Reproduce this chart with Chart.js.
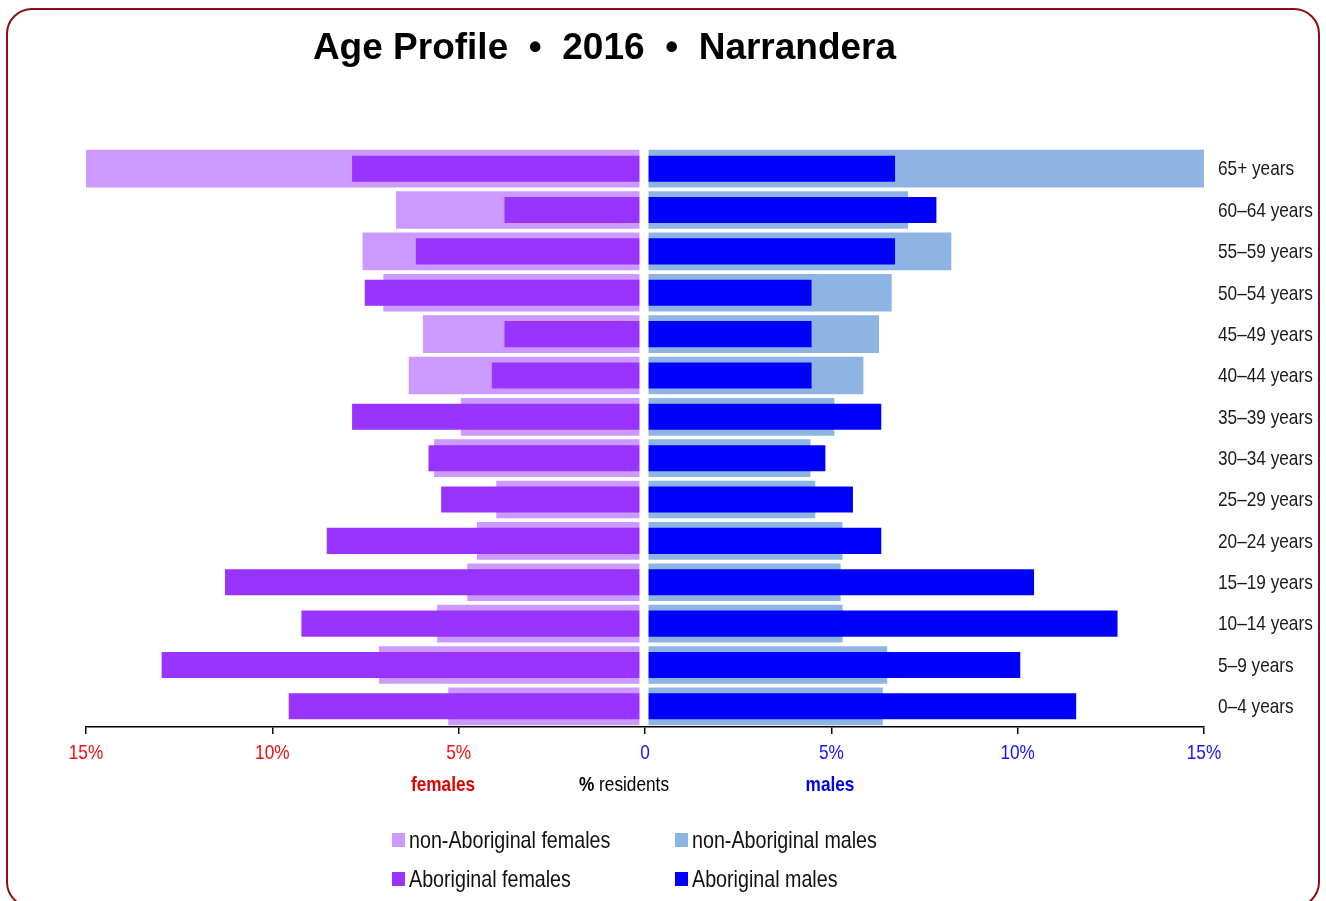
<!DOCTYPE html>
<html>
<head>
<meta charset="utf-8">
<title>Age Profile - Narrandera 2016</title>
<script src="https://cdn.jsdelivr.net/npm/chart.js@4.4.1/dist/chart.umd.min.js"></script>
<style>
  body { margin: 0; background: #fff; }
  #wrap { position: relative; width: 1326px; height: 901px; overflow: hidden; background: #fff; }
  #frame {
    position: absolute; left: 6px; top: 8px; width: 1310px; height: 896px;
    border: 2px solid #8a1010; border-radius: 26px;
  }
  #pyramid { position: absolute; left: 0; top: 0; }
  #title {
    position: absolute; left: 0; width: 1209px; top: 26px; text-align: center; white-space: pre;
    font: bold 37px "Liberation Sans", Arial, sans-serif; color: #000;
  }
  /* Arial Narrow is not installed, so squeeze Liberation Sans instead */
  .narrow {
    position: absolute; white-space: pre; line-height: 1;
    font-family: "Liberation Sans", Arial, sans-serif;
  }
  .sub { top: 773px; font-size: 21px; transform: translateX(-50%) scaleX(0.82); transform-origin: center; }
  .leg-text { font-size: 24px; color: #111; transform: scaleX(0.82); transform-origin: left; }
  .leg-box { position: absolute; width: 13px; height: 14px; }
</style>
</head>
<body>
<div id="wrap">
  <div id="frame"></div>
  <canvas id="pyramid" width="1326" height="901"></canvas>
  <div id="title">Age Profile  •  2016  •  Narrandera</div>
  <div class="narrow sub" style="left:443px;color:#e00000;font-weight:bold;">females</div>
  <div class="narrow sub" style="left:624px;color:#000;"><b>%</b> residents</div>
  <div class="narrow sub" style="left:830px;color:#0000ee;font-weight:bold;">males</div>
  <div id="legend"></div>
</div>

<script>
// =========================================
// Age pyramid - Aboriginal vs non-Aboriginal residents
// =========================================

const AGE_GROUPS = ['65+ years', '60–64 years', '55–59 years', '50–54 years', '45–49 years', '40–44 years',
  '35–39 years', '30–34 years', '25–29 years', '20–24 years', '15–19 years', '10–14 years', '5–9 years', '0–4 years'];

// % of residents (65+ non-Aboriginal runs off the 15% edge)
const NON_ABORIGINAL_FEMALES = [15.0, 6.68, 7.58, 7.02, 5.96, 6.34, 4.94, 5.66, 3.99, 4.51, 4.77, 5.58, 7.14, 5.28];
const ABORIGINAL_FEMALES = [7.86, 3.77, 6.15, 7.52, 3.77, 4.11, 7.86, 5.81, 5.47, 8.54, 11.27, 9.22, 12.97, 9.56];
const NON_ABORIGINAL_MALES = [15.0, 7.06, 8.22, 6.62, 6.28, 5.86, 5.08, 4.44, 4.57, 5.30, 5.25, 5.30, 6.50, 6.38];
const ABORIGINAL_MALES = [6.71, 7.82, 6.71, 4.47, 4.47, 4.47, 6.34, 4.84, 5.58, 6.34, 10.44, 12.68, 10.07, 11.57];

const X_TICKS = [-15, -10, -5, 0, 5, 10, 15];

const FONT = '"Liberation Sans", Arial, sans-serif';
const SQUEEZE = 0.82;

const COLORS = {
  nonAbF: '#cc99ff',
  abF: '#9933ff',
  nonAbM: '#8db4e2',
  abM: '#0000ff',
};

const LEGEND = [
  { label: 'non-Aboriginal females', color: COLORS.nonAbF, x: 392, y: 828 },
  { label: 'non-Aboriginal males', color: COLORS.nonAbM, x: 675, y: 828 },
  { label: 'Aboriginal females', color: COLORS.abF, x: 392, y: 867 },
  { label: 'Aboriginal males', color: COLORS.abM, x: 675, y: 867 },
];

// white strip down the middle, so the two halves sit apart like the original
const centreGap = {
  id: 'centreGap',
  afterDatasetsDraw(chart) {
    const { ctx, chartArea, scales } = chart;
    const x0 = scales.x.getPixelForValue(0);
    ctx.save();
    ctx.fillStyle = '#fff';
    ctx.fillRect(x0 - 5.5, chartArea.top, 9, chartArea.bottom - chartArea.top - 1);
    ctx.restore();
  }
};

function squeezedText(ctx, text, x, y) {
  ctx.save();
  ctx.translate(x, y);
  ctx.scale(SQUEEZE, 1);
  ctx.fillText(text, 0, 0);
  ctx.restore();
}

// tick labels in a narrow face, drawn by hand
const narrowLabels = {
  id: 'narrowLabels',
  afterDraw(chart) {
    const { ctx, scales } = chart;
    ctx.save();
    ctx.textBaseline = 'middle';

    ctx.font = '21px ' + FONT;
    ctx.fillStyle = '#1a1a1a';
    ctx.textAlign = 'left';
    chart.data.labels.forEach((lab, i) => {
      squeezedText(ctx, lab, scales.y.left + 14, scales.y.getPixelForValue(i) + 1);
    });

    ctx.font = '21px ' + FONT;
    ctx.textAlign = 'center';
    X_TICKS.forEach(v => {
      ctx.fillStyle = v < 0 ? '#f01010' : '#1414f5';
      squeezedText(ctx, v === 0 ? '0' : Math.abs(v) + '%', scales.x.getPixelForValue(v), scales.x.top + 26);
    });
    ctx.restore();
  }
};

function bar(label, values, color, thick, order, flip) {
  return {
    label,
    data: values.map(v => flip ? -v : v),
    backgroundColor: color,
    borderWidth: 0,
    grouped: false,
    categoryPercentage: 1,
    barPercentage: thick,
    order,
  };
}

function renderLegend() {
  const box = document.getElementById('legend');
  box.innerHTML = LEGEND.map(l => `
    <div class="leg-box" style="left:${l.x}px;top:${l.y + 5}px;background:${l.color}"></div>
    <div class="narrow leg-text" style="left:${l.x + 17}px;top:${l.y}px;">${l.label}</div>
  `).join('');
}

function drawPyramid() {
  new Chart(document.getElementById('pyramid'), {
    type: 'bar',
    data: {
      labels: AGE_GROUPS,
      datasets: [
        bar('Aboriginal females', ABORIGINAL_FEMALES, COLORS.abF, 0.63, 0, true),
        bar('Aboriginal males', ABORIGINAL_MALES, COLORS.abM, 0.63, 0, false),
        bar('non-Aboriginal females', NON_ABORIGINAL_FEMALES, COLORS.nonAbF, 0.91, 1, true),
        bar('non-Aboriginal males', NON_ABORIGINAL_MALES, COLORS.nonAbM, 0.91, 1, false),
      ]
    },
    options: {
      indexAxis: 'y',
      responsive: false,
      animation: false,
      layout: { padding: { left: 86, right: 0, top: 148, bottom: 124 } },
      plugins: { legend: { display: false }, tooltip: { enabled: false } },
      scales: {
        x: {
          min: -15, max: 15,
          afterBuildTicks: s => { s.ticks = X_TICKS.map(v => ({ value: v })); },
          afterFit: s => { s.height = 50; },
          border: { display: true, color: '#000', width: 1.5 },
          grid: { drawOnChartArea: false, drawTicks: true, tickLength: 7, color: '#000', lineWidth: 1.5 },
          ticks: { display: false }
        },
        y: {
          position: 'right',
          afterFit: s => { s.width = 122; },
          border: { display: false },
          grid: { display: false },
          ticks: { display: false }
        }
      }
    },
    plugins: [centreGap, narrowLabels]
  });
}

document.addEventListener('DOMContentLoaded', () => {
  renderLegend();
  drawPyramid();
});
</script>
</body>
</html>
